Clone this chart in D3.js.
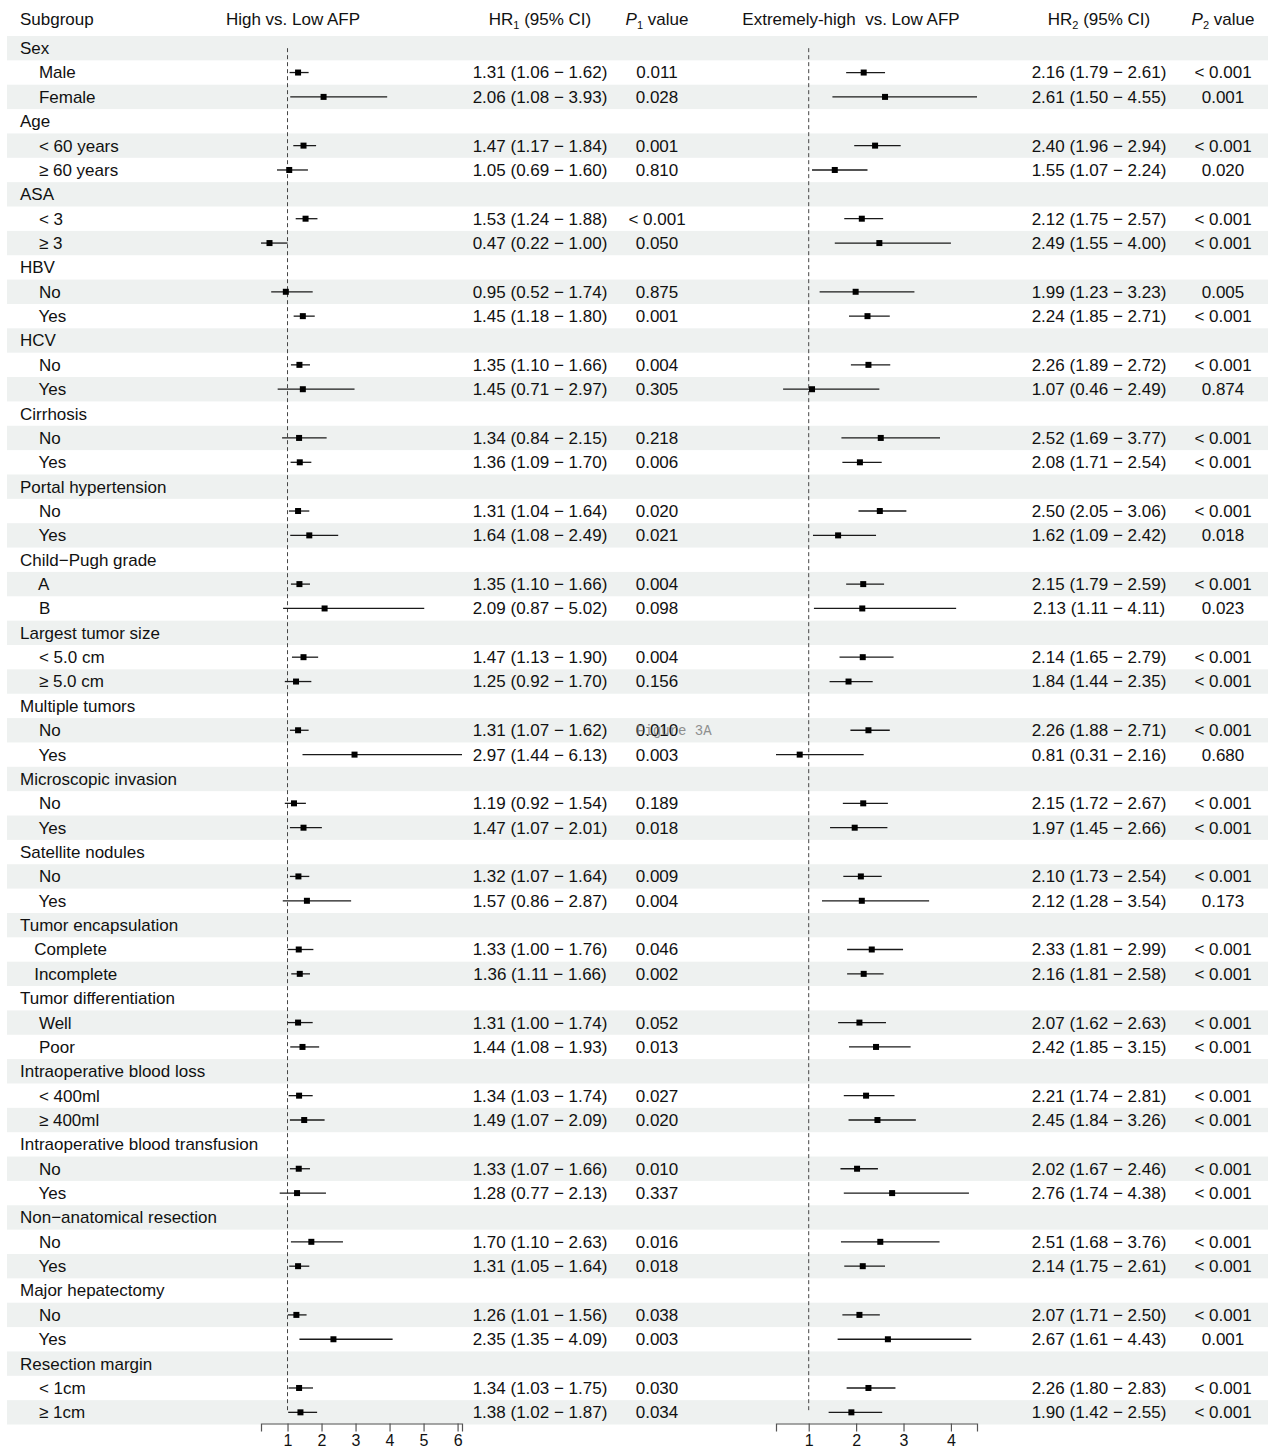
<!DOCTYPE html>
<html>
<head>
<meta charset="utf-8">
<script src="https://cdn.jsdelivr.net/npm/d3@7"></script>
<style>
  html, body { margin: 0; padding: 0; background: #ffffff; }
  svg text { font-family: "Liberation Sans", Arial, Helvetica, sans-serif; fill: #111; white-space: pre; }
</style>
</head>
<body>
<svg id="chart" width="1274" height="1452"></svg>
<script>
// Subgroup analysis: hazard ratios for High vs. Low AFP and Extremely-high vs. Low AFP
const groupNames = [
  "Sex", "Age", "ASA", "HBV", "HCV", "Cirrhosis", "Portal hypertension",
  "Child\u2212Pugh grade", "Largest tumor size", "Multiple tumors",
  "Microscopic invasion", "Satellite nodules", "Tumor encapsulation",
  "Tumor differentiation", "Intraoperative blood loss",
  "Intraoperative blood transfusion", "Non\u2212anatomical resection",
  "Major hepatectomy", "Resection margin"
];

const subgroupLabels = [
  "    Male", "    Female",
  "    < 60 years", "    \u2265 60 years",
  "    < 3", "    \u2265 3",
  "    No", "    Yes",
  "    No", "    Yes",
  "    No", "    Yes",
  "    No", "    Yes",
  "    A", "    B",
  "    < 5.0 cm", "    \u2265 5.0 cm",
  "    No", "    Yes",
  "    No", "    Yes",
  "    No", "    Yes",
  "   Complete", "   Incomplete",
  "    Well", "    Poor",
  "    < 400ml", "    \u2265 400ml",
  "    No", "    Yes",
  "    No", "    Yes",
  "    No", "    Yes",
  "    < 1cm", "    \u2265 1cm"
];

// High vs. Low AFP
const hr1 = [1.31, 2.06, 1.47, 1.05, 1.53, 0.47, 0.95, 1.45, 1.35, 1.45, 1.34, 1.36, 1.31, 1.64, 1.35, 2.09, 1.47, 1.25, 1.31, 2.97,
             1.19, 1.47, 1.32, 1.57, 1.33, 1.36, 1.31, 1.44, 1.34, 1.49, 1.33, 1.28, 1.70, 1.31, 1.26, 2.35, 1.34, 1.38];
const lo1 = [1.06, 1.08, 1.17, 0.69, 1.24, 0.22, 0.52, 1.18, 1.10, 0.71, 0.84, 1.09, 1.04, 1.08, 1.10, 0.87, 1.13, 0.92, 1.07, 1.44,
             0.92, 1.07, 1.07, 0.86, 1.00, 1.11, 1.00, 1.08, 1.03, 1.07, 1.07, 0.77, 1.10, 1.05, 1.01, 1.35, 1.03, 1.02];
const hi1 = [1.62, 3.93, 1.84, 1.60, 1.88, 1.00, 1.74, 1.80, 1.66, 2.97, 2.15, 1.70, 1.64, 2.49, 1.66, 5.02, 1.90, 1.70, 1.62, 6.13,
             1.54, 2.01, 1.64, 2.87, 1.76, 1.66, 1.74, 1.93, 1.74, 2.09, 1.66, 2.13, 2.63, 1.64, 1.56, 4.09, 1.75, 1.87];
const p1 = ["0.011", "0.028", "0.001", "0.810", "< 0.001", "0.050", "0.875", "0.001", "0.004", "0.305",
            "0.218", "0.006", "0.020", "0.021", "0.004", "0.098", "0.004", "0.156", "0.010", "0.003",
            "0.189", "0.018", "0.009", "0.004", "0.046", "0.002", "0.052", "0.013", "0.027", "0.020",
            "0.010", "0.337", "0.016", "0.018", "0.038", "0.003", "0.030", "0.034"];

// Extremely-high vs. Low AFP
const hr2 = [2.16, 2.61, 2.40, 1.55, 2.12, 2.49, 1.99, 2.24, 2.26, 1.07, 2.52, 2.08, 2.50, 1.62, 2.15, 2.13, 2.14, 1.84, 2.26, 0.81,
             2.15, 1.97, 2.10, 2.12, 2.33, 2.16, 2.07, 2.42, 2.21, 2.45, 2.02, 2.76, 2.51, 2.14, 2.07, 2.67, 2.26, 1.90];
const lo2 = [1.79, 1.50, 1.96, 1.07, 1.75, 1.55, 1.23, 1.85, 1.89, 0.46, 1.69, 1.71, 2.05, 1.09, 1.79, 1.11, 1.65, 1.44, 1.88, 0.31,
             1.72, 1.45, 1.73, 1.28, 1.81, 1.81, 1.62, 1.85, 1.74, 1.84, 1.67, 1.74, 1.68, 1.75, 1.71, 1.61, 1.80, 1.42];
const hi2 = [2.61, 4.55, 2.94, 2.24, 2.57, 4.00, 3.23, 2.71, 2.72, 2.49, 3.77, 2.54, 3.06, 2.42, 2.59, 4.11, 2.79, 2.35, 2.71, 2.16,
             2.67, 2.66, 2.54, 3.54, 2.99, 2.58, 2.63, 3.15, 2.81, 3.26, 2.46, 4.38, 3.76, 2.61, 2.50, 4.43, 2.83, 2.55];
const p2 = ["< 0.001", "0.001", "< 0.001", "0.020", "< 0.001", "< 0.001", "0.005", "< 0.001", "< 0.001", "0.874",
            "< 0.001", "< 0.001", "< 0.001", "0.018", "< 0.001", "0.023", "< 0.001", "< 0.001", "< 0.001", "0.680",
            "< 0.001", "< 0.001", "< 0.001", "0.173", "< 0.001", "< 0.001", "< 0.001", "< 0.001", "< 0.001", "< 0.001",
            "< 0.001", "< 0.001", "< 0.001", "< 0.001", "< 0.001", "0.001", "< 0.001", "< 0.001"];

const ticks1 = [1, 2, 3, 4, 5, 6];
const ticks2 = [1, 2, 3, 4];

// Flatten into table rows: a group heading followed by its two subgroups
const rows = [];
groupNames.forEach((g, gi) => {
  rows.push({ type: "group", label: g });
  for (let k = 0; k < 2; k++) {
    const i = gi * 2 + k;
    rows.push({
      type: "sub", label: subgroupLabels[i],
      hr1: hr1[i], lo1: lo1[i], hi1: hi1[i], p1: p1[i],
      hr2: hr2[i], lo2: lo2[i], hi2: hi2[i], p2: p2[i]
    });
  }
});

const svg = d3.select("#chart");
const fmt = d3.format(".2f");
const ciText = (h, l, u) => `${fmt(h)} (${fmt(l)} \u2212 ${fmt(u)})`;

// Layout
const tableTop = 36, rowH = 24.36;
const y = d3.scaleBand().domain(d3.range(rows.length))
  .range([tableTop, tableTop + rows.length * rowH]).paddingInner(0).paddingOuter(0);
const yc = i => y(i) + y.bandwidth() / 2;
const bottom = tableTop + rows.length * rowH;

const col = { label: 20, hr1: 540, p1: 657, hr2: 1099, p2: 1223 };

const x1 = d3.scaleLinear().domain([d3.min(lo1), d3.max(hi1)]).range([261, 462]);
const x2 = d3.scaleLinear().domain([d3.min(lo2), d3.max(hi2)]).range([776, 977]);

// Alternating row shading
svg.append("g").selectAll("rect")
  .data(rows.map((r, i) => i).filter(i => i % 2 === 0))
  .join("rect")
  .attr("x", 7).attr("width", 1261)
  .attr("y", i => y(i)).attr("height", y.bandwidth())
  .attr("fill", "#eef1f0");

// Header
const head = svg.append("g").attr("font-size", 17);
const hy = 19;
head.append("text").attr("x", col.label).attr("y", hy).attr("dy", "0.35em").text("Subgroup");
head.append("text").attr("x", 293).attr("y", hy).attr("dy", "0.35em").attr("text-anchor", "middle").text("High vs. Low AFP");
head.append("text").attr("x", 851).attr("y", hy).attr("dy", "0.35em").attr("text-anchor", "middle").text("Extremely-high  vs. Low AFP");

function hrHeader(cx, n) {
  const t = head.append("text").attr("x", cx).attr("y", hy).attr("dy", "0.35em").attr("text-anchor", "middle");
  t.append("tspan").text("HR");
  t.append("tspan").attr("font-size", 11).attr("dy", 4).text(n);
  t.append("tspan").attr("dy", -4).text(" (95% CI)");
}
function pHeader(cx, n) {
  const t = head.append("text").attr("x", cx).attr("y", hy).attr("dy", "0.35em").attr("text-anchor", "middle");
  t.append("tspan").attr("font-style", "italic").text("P");
  t.append("tspan").attr("font-size", 11).attr("dy", 4).text(n);
  t.append("tspan").attr("dy", -4).text(" value");
}
hrHeader(col.hr1, "1");
pHeader(col.p1, "1");
hrHeader(col.hr2, "2");
pHeader(col.p2, "2");

// Table text
const body = svg.append("g").attr("font-size", 17);
body.selectAll("text.lab").data(rows).join("text")
  .attr("class", "lab")
  .attr("x", col.label).attr("y", (d, i) => yc(i)).attr("dy", "0.35em")
  .text(d => d.label);

const subs = rows.map((d, i) => ({ ...d, i })).filter(d => d.type === "sub");

body.selectAll("text.hr1").data(subs).join("text").attr("class", "hr1")
  .attr("x", col.hr1).attr("y", d => yc(d.i)).attr("dy", "0.35em").attr("text-anchor", "middle")
  .text(d => ciText(d.hr1, d.lo1, d.hi1));
body.selectAll("text.p1").data(subs).join("text").attr("class", "p1")
  .attr("x", col.p1).attr("y", d => yc(d.i)).attr("dy", "0.35em").attr("text-anchor", "middle")
  .text(d => d.p1);
body.selectAll("text.hr2").data(subs).join("text").attr("class", "hr2")
  .attr("x", col.hr2).attr("y", d => yc(d.i)).attr("dy", "0.35em").attr("text-anchor", "middle")
  .text(d => ciText(d.hr2, d.lo2, d.hi2));
body.selectAll("text.p2").data(subs).join("text").attr("class", "p2")
  .attr("x", col.p2).attr("y", d => yc(d.i)).attr("dy", "0.35em").attr("text-anchor", "middle")
  .text(d => d.p2);

// Forest panels
function panel(x, ticks, lo, hr, hi) {
  const g = svg.append("g");
  // reference line at HR = 1
  g.append("line")
    .attr("x1", x(1)).attr("x2", x(1))
    .attr("y1", yc(0)).attr("y2", yc(rows.length - 1))
    .attr("stroke", "#444").attr("stroke-width", 1).attr("stroke-dasharray", "4,3");
  // confidence intervals
  g.selectAll("line.ci").data(subs).join("line").attr("class", "ci")
    .attr("x1", d => x(d[lo])).attr("x2", d => x(d[hi]))
    .attr("y1", d => yc(d.i)).attr("y2", d => yc(d.i))
    .attr("stroke", "#1a1a1a").attr("stroke-width", 1.3);
  // point estimates
  const s = 6;
  g.selectAll("rect.pt").data(subs).join("rect").attr("class", "pt")
    .attr("x", d => x(d[hr]) - s / 2).attr("y", d => yc(d.i) - s / 2)
    .attr("width", s).attr("height", s).attr("fill", "#000");
  // x axis
  const ax = g.append("g").attr("transform", `translate(0,${bottom - 1})`)
    .call(d3.axisBottom(x).tickValues(ticks).tickFormat(d3.format("d")).tickSizeOuter(0).tickSize(8).tickPadding(3));
  ax.select(".domain").attr("stroke", "#555").attr("stroke-width", 1.2);
  ax.selectAll(".tick line").attr("stroke", "#555").attr("stroke-width", 1.2);
  ax.selectAll(".tick text").attr("font-size", 16).attr("fill", "#111")
    .attr("font-family", "\"Liberation Sans\", Arial, sans-serif");
}
panel(x1, ticks1, "lo1", "hr1", "hi1");
panel(x2, ticks2, "lo2", "hr2", "hi2");

// Figure tag stamped over the table
svg.append("text")
  .attr("x", 636).attr("y", yc(28)).attr("dy", "0.35em")
  .attr("font-size", 14)
  .style("font-family", "\"Liberation Mono\", \"Courier New\", monospace")
  .style("fill", "#777").attr("opacity", 0.8)
  .text("Figure 3A");
</script>
</body>
</html>
